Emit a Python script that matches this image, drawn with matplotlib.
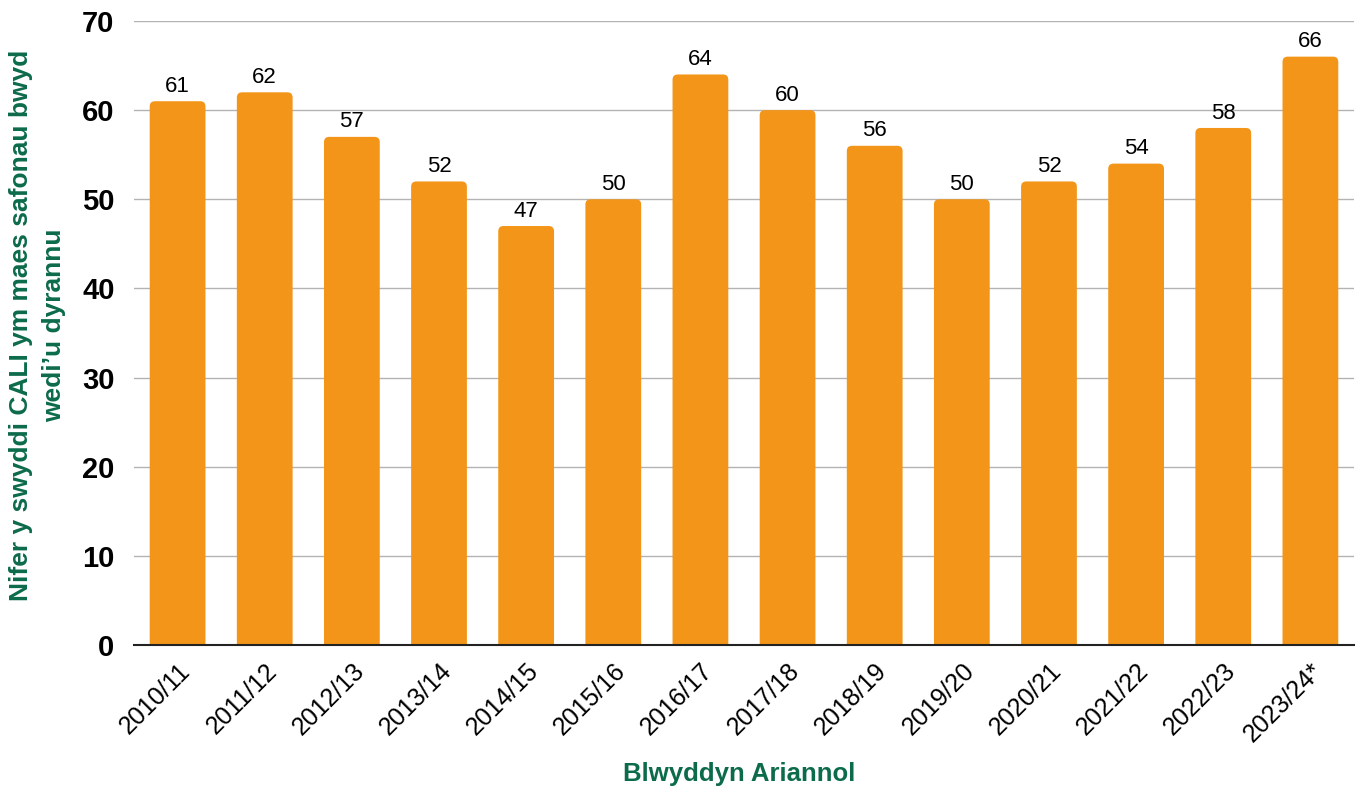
import matplotlib.pyplot as plt
from matplotlib.patches import FancyBboxPatch

plt.rcParams['font.family'] = ['Liberation Sans', 'DejaVu Sans']

years = ['2010/11', '2011/12', '2012/13', '2013/14', '2014/15', '2015/16', '2016/17',
         '2017/18', '2018/19', '2019/20', '2020/21', '2021/22', '2022/23', '2023/24*']
posts = [61, 62, 57, 52, 47, 50, 64, 60, 56, 50, 52, 54, 58, 66]

orange = '#f39518'
green = '#0c6b4b'

fig = plt.figure(figsize=(13.62, 7.89), dpi=100)
ax = fig.add_axes([0.0984, 0.1825, 0.8957, 0.7909])

ax.set_xlim(-0.5, len(years) - 0.5)
ax.set_ylim(0, 70)
ax.set_yticks(range(0, 71, 10))
ax.yaxis.grid(True, color='#b3b3b3', linewidth=1)
ax.set_axisbelow(True)

width = 0.64
rad = 0.06
aspect = 9.8
for i, v in enumerate(posts):
    # rounded top corners; bottom pushed below zero so it is clipped off
    p = FancyBboxPatch((i - width / 2, -2), width, v + 2,
                       boxstyle='round,pad=0,rounding_size=%f' % rad,
                       mutation_aspect=aspect, facecolor=orange,
                       edgecolor='none', zorder=2)
    ax.add_patch(p)
    ax.text(i, v + 0.5, str(v), ha='center', va='bottom', fontsize=16, color='black')

ax.set_xticks(range(len(years)))
ax.set_xticklabels(years, rotation=45, ha='right', rotation_mode='anchor', fontsize=18)
ax.tick_params(axis='x', length=0, pad=10)
ax.tick_params(axis='y', length=0, pad=14, labelsize=21)
for lab in ax.get_yticklabels():
    lab.set_fontweight('bold')

for s in ['top', 'right', 'left']:
    ax.spines[s].set_visible(False)
ax.spines['bottom'].set_color('#222222')
ax.spines['bottom'].set_linewidth(1.5)
ax.spines['bottom'].set_zorder(3)

fig.text(0.0275, 0.588, 'Nifer y swyddi CALI ym maes safonau bwyd\nwedi\u2019u dyrannu',
         rotation=90, ha='center', va='center', multialignment='center',
         fontsize=19, fontweight='bold', color=green, linespacing=1.45)
fig.text(0.543, 0.004, 'Blwyddyn Ariannol', ha='center', va='bottom', fontsize=18.5,
         fontweight='bold', color=green)

fig.savefig('out.png', dpi=100)
